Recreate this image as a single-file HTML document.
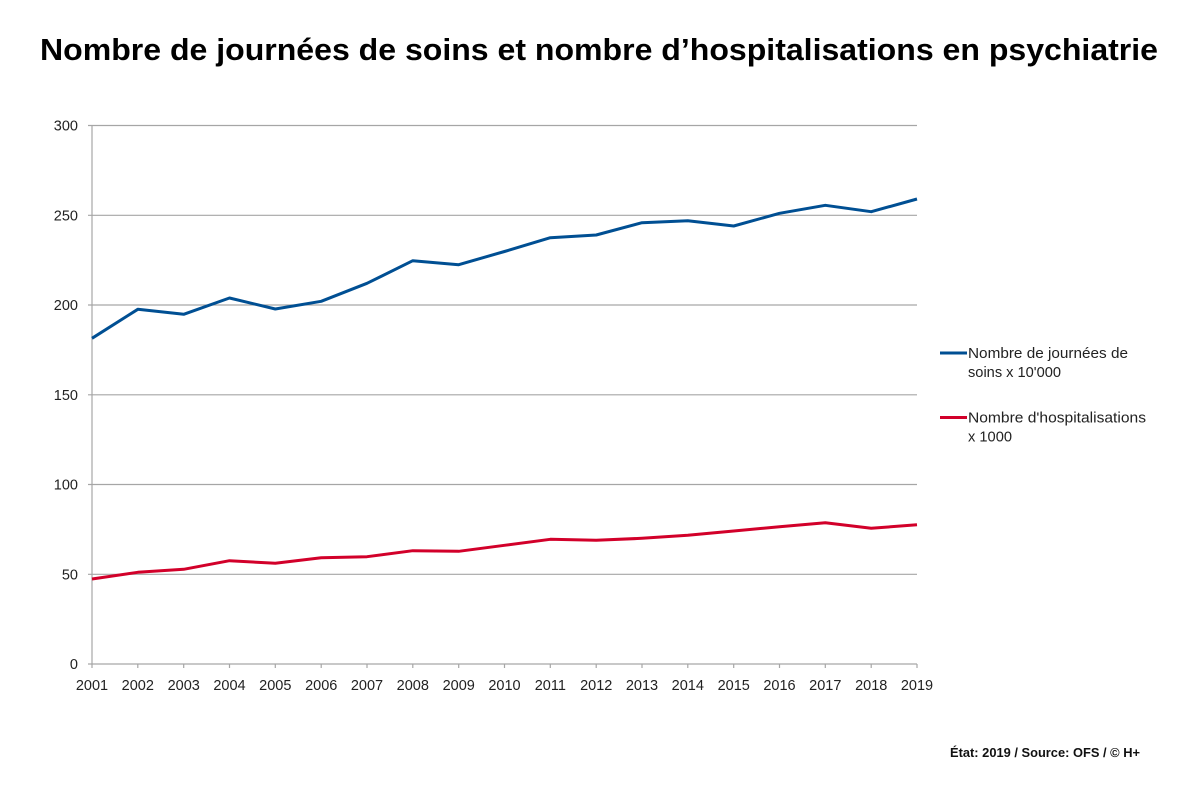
<!DOCTYPE html>
<html><head><meta charset="utf-8"><style>
html,body{margin:0;padding:0;background:#fff;}
svg{display:block;}
text{font-family:"Liberation Sans",sans-serif;}
</style></head><body>
<svg width="1200" height="796" viewBox="0 0 1200 796" xmlns="http://www.w3.org/2000/svg">
<rect width="1200" height="796" fill="#fff"/>
<text x="40" y="60" font-size="31" font-weight="bold" fill="#000" textLength="1118" lengthAdjust="spacingAndGlyphs">Nombre de journées de soins et nombre d’hospitalisations en psychiatrie</text>
<g stroke="#a6a6a6" stroke-width="1.2">
<line x1="88" y1="125.5" x2="917" y2="125.5"/>
<line x1="88" y1="215.3" x2="917" y2="215.3"/>
<line x1="88" y1="305" x2="917" y2="305"/>
<line x1="88" y1="394.8" x2="917" y2="394.8"/>
<line x1="88" y1="484.5" x2="917" y2="484.5"/>
<line x1="88" y1="574.3" x2="917" y2="574.3"/>
<line x1="88" y1="664" x2="917" y2="664"/>
<line x1="92" y1="125.5" x2="92" y2="668"/>
<g>
<line x1="137.8" y1="664" x2="137.8" y2="668"/>
<line x1="183.7" y1="664" x2="183.7" y2="668"/>
<line x1="229.5" y1="664" x2="229.5" y2="668"/>
<line x1="275.3" y1="664" x2="275.3" y2="668"/>
<line x1="321.2" y1="664" x2="321.2" y2="668"/>
<line x1="367" y1="664" x2="367" y2="668"/>
<line x1="412.8" y1="664" x2="412.8" y2="668"/>
<line x1="458.7" y1="664" x2="458.7" y2="668"/>
<line x1="504.5" y1="664" x2="504.5" y2="668"/>
<line x1="550.3" y1="664" x2="550.3" y2="668"/>
<line x1="596.2" y1="664" x2="596.2" y2="668"/>
<line x1="642" y1="664" x2="642" y2="668"/>
<line x1="687.8" y1="664" x2="687.8" y2="668"/>
<line x1="733.7" y1="664" x2="733.7" y2="668"/>
<line x1="779.5" y1="664" x2="779.5" y2="668"/>
<line x1="825.3" y1="664" x2="825.3" y2="668"/>
<line x1="871.2" y1="664" x2="871.2" y2="668"/>
<line x1="917" y1="664" x2="917" y2="668"/>
</g>
</g>
<g font-size="14.5" fill="#222" text-anchor="end">
<text x="78" y="130.5">300</text>
<text x="78" y="220.3">250</text>
<text x="78" y="310">200</text>
<text x="78" y="399.8">150</text>
<text x="78" y="489.5">100</text>
<text x="78" y="579.3">50</text>
<text x="78" y="669">0</text>
</g>
<g font-size="14.5" fill="#222" text-anchor="middle">
<text x="92" y="690">2001</text>
<text x="137.8" y="690">2002</text>
<text x="183.7" y="690">2003</text>
<text x="229.5" y="690">2004</text>
<text x="275.3" y="690">2005</text>
<text x="321.2" y="690">2006</text>
<text x="367" y="690">2007</text>
<text x="412.8" y="690">2008</text>
<text x="458.7" y="690">2009</text>
<text x="504.5" y="690">2010</text>
<text x="550.3" y="690">2011</text>
<text x="596.2" y="690">2012</text>
<text x="642" y="690">2013</text>
<text x="687.8" y="690">2014</text>
<text x="733.7" y="690">2015</text>
<text x="779.5" y="690">2016</text>
<text x="825.3" y="690">2017</text>
<text x="871.2" y="690">2018</text>
<text x="917" y="690">2019</text>
</g>
<polyline fill="none" stroke="#004f93" stroke-width="3" stroke-linejoin="round" points="92,338.3 137.8,309.3 183.7,314.3 229.5,298 275.3,309 321.2,301.3 367,283.3 412.8,260.7 458.7,264.7 504.5,251.5 550.3,237.7 596.2,235 642,222.7 687.8,220.7 733.7,226 779.5,213.3 825.3,205.3 871.2,211.7 917,199"/>
<polyline fill="none" stroke="#d2002a" stroke-width="3" stroke-linejoin="round" points="92,579 137.8,572.3 183.7,569.3 229.5,560.7 275.3,563.3 321.2,557.7 367,556.7 412.8,550.7 458.7,551.3 504.5,545.3 550.3,539.3 596.2,540.3 642,538.3 687.8,535.3 733.7,531 779.5,526.7 825.3,522.7 871.2,528.3 917,524.7"/>
<line x1="940" y1="353" x2="967" y2="353" stroke="#004f93" stroke-width="3"/>
<line x1="940" y1="417.5" x2="967" y2="417.5" stroke="#d2002a" stroke-width="3"/>
<g font-size="15" fill="#222">
<text x="968" y="358" textLength="160" lengthAdjust="spacingAndGlyphs">Nombre de journées de</text>
<text x="968" y="377" textLength="93" lengthAdjust="spacingAndGlyphs">soins x 10'000</text>
<text x="968" y="422.5" textLength="178" lengthAdjust="spacingAndGlyphs">Nombre d'hospitalisations</text>
<text x="968" y="441.5" textLength="44" lengthAdjust="spacingAndGlyphs">x 1000</text>
</g>
<text x="950" y="757" font-size="13" font-weight="bold" fill="#111" textLength="190" lengthAdjust="spacingAndGlyphs">État: 2019 / Source: OFS / © H+</text>
</svg>
</body></html>
